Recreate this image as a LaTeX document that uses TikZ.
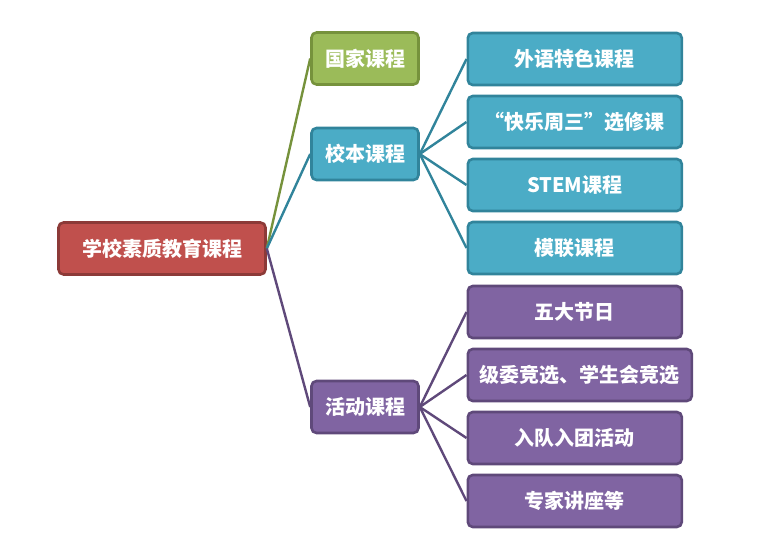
\documentclass[tikz,border=0pt]{standalone}
\usepackage{fontspec}
\newfontfamily\cjk{Noto Sans CJK SC}
\usepackage{tikz}

\definecolor{rootfill}{HTML}{C0504D}
\definecolor{rootedge}{HTML}{8C3A38}
\definecolor{gjfill}{HTML}{9BBB59}
\definecolor{gjedge}{HTML}{76923C}
\definecolor{xbfill}{HTML}{4BACC6}
\definecolor{xbedge}{HTML}{31849B}
\definecolor{hdfill}{HTML}{8064A2}
\definecolor{hdedge}{HTML}{5F497A}

\begin{document}
\begin{tikzpicture}[x=1pt,y=-1pt,
    box/.style={rectangle,rounded corners=5pt,line width=2.6pt,text=white,
        font=\cjk\bfseries\fontsize{20}{23}\selectfont,inner xsep=12pt,
        minimum height=52pt},
    rootbox/.style={box,fill=rootfill,draw=rootedge,minimum width=207pt},
    gjbox/.style={box,fill=gjfill,draw=gjedge,minimum width=107pt},
    xbbox/.style={box,fill=xbfill,draw=xbedge,minimum width=214pt,anchor=west},
    hdbox/.style={box,fill=hdfill,draw=hdedge,minimum width=214pt,anchor=west},
    link/.style={line width=2.4pt}]
        \useasboundingbox (0,0) rectangle (777,559);

        % Root
        \node[rootbox] (root) at (162,248.5) {学校素质教育课程};

        % Middle column
        \node[gjbox] (gj) at (365,58.5) {国家课程};
        \node[box,fill=xbfill,draw=xbedge,minimum width=107pt] (xb) at (365,154) {校本课程};
        \node[box,fill=hdfill,draw=hdedge,minimum width=107pt] (hd) at (365,407) {活动课程};
        \draw[link,gjedge] (root.east) -- (gj.west);
        \draw[link,xbedge] (root.east) -- (xb.west);
        \draw[link,hdedge] (root.east) -- (hd.west);

        % School courses
        \foreach \t [count=\i] in {外语特色课程,“快乐周三”选修课,STEM课程,模联课程} {
            \node[xbbox] (xb\i) at (466.5,{59+63*(\i-1)}) {\t};
            \draw[link,xbedge] (xb.east) -- (xb\i.west);
        }

        % Activity courses
        \foreach \t [count=\i] in {五大节日,级委竞选、学生会竞选,入队入团活动,专家讲座等} {
            \node[hdbox] (hd\i) at (466.5,{312+63*(\i-1)}) {\t};
            \draw[link,hdedge] (hd.east) -- (hd\i.west);
        }
    \end{tikzpicture}
\end{document}
